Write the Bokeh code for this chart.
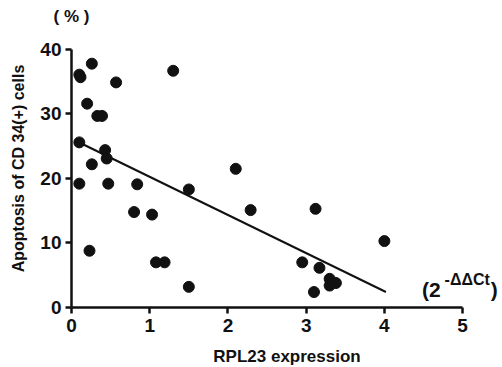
from bokeh.plotting import figure
from bokeh.models import Range1d, FixedTicker, Label, ColumnDataSource
from bokeh.embed import file_html
from bokeh.resources import INLINE

# data
rpl23 = [0.10, 0.115, 0.26, 0.57, 1.30, 0.20, 0.33, 0.39, 0.10, 0.43, 0.45,
         0.26, 2.10, 0.10, 0.47, 0.84, 1.50, 0.80, 1.03, 0.23, 1.08, 1.19,
         1.50, 2.29, 3.12, 4.00, 2.95, 3.17, 3.30, 3.38, 3.30, 3.10]
apoptosis = [36.1, 35.7, 37.8, 34.9, 36.7, 31.6, 29.7, 29.7, 25.6, 24.4, 23.1,
             22.2, 21.5, 19.2, 19.2, 19.1, 18.3, 14.8, 14.4, 8.8, 7.0, 7.0,
             3.2, 15.1, 15.3, 10.3, 7.0, 6.15, 4.45, 3.8, 3.4, 2.4]
fit_x = [0.08, 4.02]
fit_y = [25.7, 2.4]
x_ticks = [0, 1, 2, 3, 4, 5]
y_ticks = [0, 10, 20, 30, 40]

FONT = "Liberation Sans"
INK = "#111111"

p = figure(frame_width=431, frame_height=278, output_backend="svg",
           toolbar_location=None,
           x_range=Range1d(0, 5.51), y_range=Range1d(0, 43.1),
           min_border_left=71, min_border_right=0, min_border_top=0,
           min_border_bottom=59, title="( % )")
p.outline_line_color = None
p.xgrid.visible = False
p.ygrid.visible = False
p.background_fill_color = "white"

p.title.text_font = FONT
p.title.text_font_style = "bold"
p.title.text_font_size = "17px"
p.title.text_color = INK
p.title.align = "left"
p.title.offset = -18
p.title.standoff = 8

src = ColumnDataSource(dict(x=rpl23, y=apoptosis))
p.line(fit_x, fit_y, line_color=INK, line_width=2)
p.scatter("x", "y", source=src, size=11, fill_color=INK, line_color=INK)

for ax, ticks, bounds in ((p.xaxis[0], x_ticks, (0, 5)), (p.yaxis[0], y_ticks, (0, 40))):
    ax.ticker = FixedTicker(ticks=ticks)
    ax.bounds = bounds
    ax.axis_line_width = 2.5
    ax.axis_line_color = INK
    ax.major_tick_line_width = 2.5
    ax.major_tick_line_color = INK
    ax.major_tick_out = 6
    ax.major_tick_in = 0
    ax.minor_tick_line_color = None
    ax.major_label_text_font = FONT
    ax.major_label_text_font_style = "bold"
    ax.major_label_text_font_size = "19px"
    ax.major_label_text_color = INK
    ax.axis_label_text_font = FONT
    ax.axis_label_text_font_style = "bold"
    ax.axis_label_text_color = INK

p.xaxis.axis_label = "RPL23 expression"
p.xaxis.axis_label_text_font_size = "17px"
p.xaxis.major_label_standoff = 5
p.xaxis.axis_label_standoff = 12
p.yaxis.axis_label = "Apoptosis of CD 34(+) cells"
p.yaxis.axis_label_text_font_size = "16px"
p.yaxis.major_label_standoff = 4
p.yaxis.axis_label_standoff = 10

p.add_layout(Label(x=4.48, y=2.8, text="(2", text_align="left",
                   text_baseline="alphabetic", text_font=FONT,
                   text_font_style="bold", text_font_size="21px",
                   text_color=INK))
p.add_layout(Label(x=4.77, y=4.3, text="-ΔΔCt", text_align="left",
                   text_baseline="alphabetic", text_font=FONT,
                   text_font_style="bold", text_font_size="16px",
                   text_color=INK))
p.add_layout(Label(x=5.36, y=2.8, text=")", text_align="left",
                   text_baseline="alphabetic", text_font=FONT,
                   text_font_style="bold", text_font_size="21px",
                   text_color=INK))

open("out.html", "w").write(file_html(p, INLINE))
